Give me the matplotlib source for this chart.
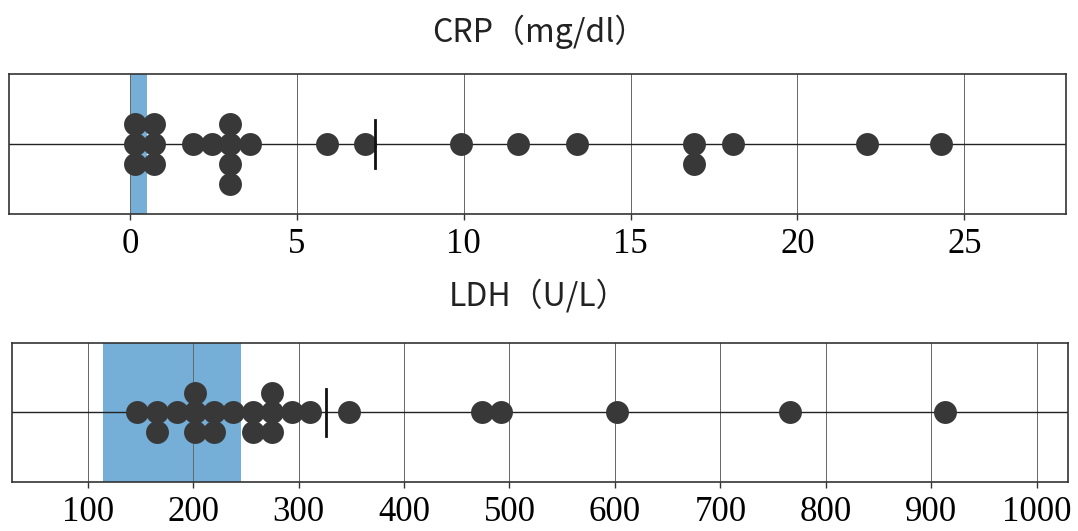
import matplotlib.pyplot as plt
import numpy as np

# CRP (mg/dl) values and stacking level of each dot
crp_values = [0.15, 0.15, 0.15, 0.72, 0.72, 0.72,
              1.88, 2.45, 3.0, 3.0, 3.0, 3.0, 3.58,
              5.91, 7.03, 9.93, 11.63, 13.38, 16.9, 16.9, 18.06, 22.1, 24.3]
crp_levels = [1, 0, -1, 1, 0, -1,
              0, 0, 1, 0, -1, -2, 0,
              0, 0, 0, 0, 0, 0, -1, 0, 0, 0]
crp_normal = (0.0, 0.5)
crp_ticks = [0, 5, 10, 15, 20, 25]

# LDH (U/L)
ldh_values = [147, 166, 166, 185, 202, 202, 202, 220, 220, 238,
              257, 257, 275, 275, 275, 294, 311, 348, 474, 492, 602, 766, 913]
ldh_levels = [0, 0, -1, 0, 0, 1, -1, 0, -1, 0,
              0, -1, 0, 1, -1, 0, 0, 0, 0, 0, 0, 0, 0]
ldh_normal = (115, 245)
ldh_ticks = [100, 200, 300, 400, 500, 600, 700, 800, 900, 1000]

dot_color = '#383838'
band_color = '#6eaad4'

fig = plt.figure(figsize=(10.78, 5.31), dpi=100)

ax1 = fig.add_axes([0.0083, 0.597, 0.9806, 0.2637])
ax2 = fig.add_axes([0.0109, 0.0923, 0.9802, 0.2618])


def strip(ax, values, levels, normal, ticks, xlim):
    ax.set_xlim(*xlim)
    ax.set_ylim(-3.5, 3.5)
    ax.set_xticks(ticks)
    ax.set_yticks([])
    ax.grid(True, axis='x', color='#666666', linewidth=0.7, zorder=1)
    ax.axvspan(normal[0], normal[1], color=band_color, alpha=0.95, zorder=1.5, lw=0)
    ax.axhline(0, color='#222222', linewidth=1.0, zorder=2)
    ax.plot(values, levels, 'o', color=dot_color, markersize=16.5,
            markeredgewidth=0, zorder=3)
    m = np.mean(values)
    ax.plot([m, m], [-1.2, 1.2], color='#111111', linewidth=2, zorder=4)
    for s in ax.spines.values():
        s.set_linewidth(1.2)
        s.set_color('#333333')
    ax.tick_params(axis='x', direction='out', length=4, width=1, pad=6,
                   labelsize=25, color='#333333')
    for lab in ax.get_xticklabels():
        lab.set_fontfamily('Liberation Serif')


strip(ax1, crp_values, crp_levels, crp_normal, crp_ticks, (-3.63, 28.05))
strip(ax2, ldh_values, ldh_levels, ldh_normal, ldh_ticks, (28, 1030))

title_font = ['Noto Sans CJK JP', 'DejaVu Sans']
fig.text(0.5, 0.94, 'CRP（mg/dl）', ha='center', va='center', fontsize=23,
         family=title_font, color='#222222')
fig.text(0.5, 0.443, 'LDH（U/L）', ha='center', va='center', fontsize=23,
         family=title_font, color='#222222')

plt.savefig('out.png', dpi=100)
